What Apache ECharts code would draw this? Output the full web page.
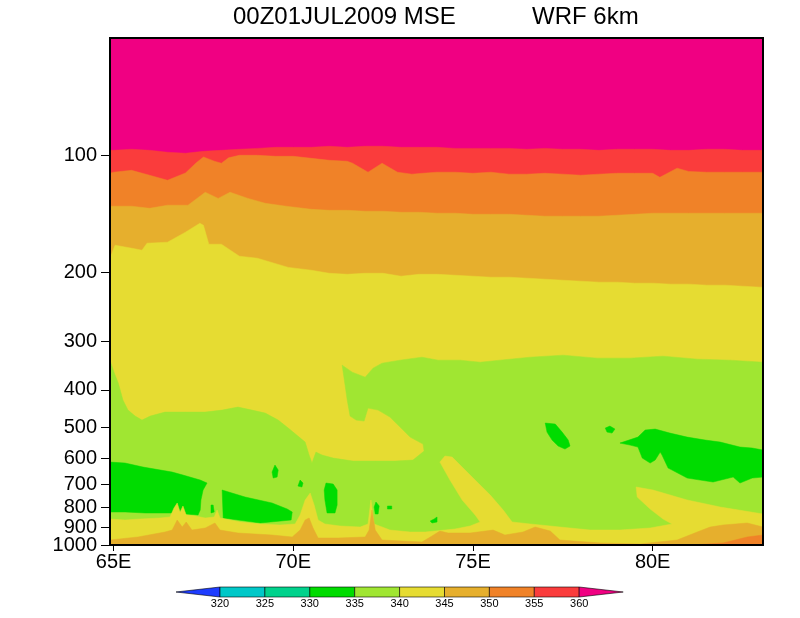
<!DOCTYPE html>
<html>
<head>
<meta charset="utf-8">
<title>00Z01JUL2009 MSE WRF 6km</title>
<script src="https://cdn.jsdelivr.net/npm/echarts@6/dist/echarts.min.js"></script>
<style>html,body{margin:0;background:#fff}</style>
</head>
<body>
<div id="main" style="width:800px;height:618px"></div>
<script>
// shading levels (K) and the GrADS rainbow used for them
var levels = [320, 325, 330, 335, 340, 345, 350, 355, 360];
var shadeColors = ['#1e3cff', '#00c8c8', '#00d28c', '#00dc00', '#a0e632', '#e6dc32', '#e6af2d', '#f08228', '#fa3c3c', '#f00082'];
var xTicks = [65, 70, 75, 80];
var pTicks = [100, 200, 300, 400, 500, 600, 700, 800, 900, 1000];
var lonRange = [64.9, 83.07];
var pRange = [50, 1000];

// contour lines, [lon, hPa]
var c360 = [[64.9,97.1],[65,97.1],[65.5,96.5],[66,97.1],[66.5,98.2],[67,98.8],[67.5,97.7],[68,97.1],[68.5,96.5],[69,96.0],[69.5,95.4],[70,95.4],[70.5,95.4],[71,94.8],[71.5,95.4],[72,94.8],[72.5,94.8],[73,95.4],[73.5,95.4],[74,95.4],[74.5,96.0],[75,96.0],[75.5,96.0],[76,96.0],[76.5,96.5],[77,96.0],[77.5,96.5],[78,96.5],[78.5,97.1],[79,96.5],[79.5,96.5],[80,96.5],[80.5,97.1],[81,97.1],[81.5,96.5],[82,96.5],[82.5,97.1],[83,97.1],[83.07,97.1]];
var c355 = [[64.9,111.2],[65,110.5],[65.5,109.3],[66,112.5],[66.5,115.9],[67,111.0],[67.3,104.5],[67.5,101.0],[67.8,103.5],[68,104.8],[68.2,101.5],[68.5,100.0],[69,100.0],[69.5,100.6],[70,100.6],[70.5,101.8],[71,103.0],[71.5,103.6],[71.65,104.8],[72.08,110.5],[72.47,104.8],[72.9,110.5],[73.3,111.8],[73.6,111.2],[74,110.5],[74.5,110.5],[75,111.2],[75.5,110.5],[76,111.8],[76.5,111.8],[77,111.2],[77.5,111.8],[78,112.5],[78.5,111.8],[79,111.2],[79.5,111.2],[80,111.2],[80.2,113.9],[80.68,107.9],[81,110.0],[81.5,110.5],[82,110.5],[82.5,110.5],[83,110.5],[83.07,110.5]];
var c350 = [[64.9,135.1],[65.5,135.1],[66,136.8],[66.5,134.3],[67.07,134.3],[67.55,124.4],[67.91,129.0],[68.24,124.4],[68.74,129.0],[69.22,132.8],[69.8,135.1],[70.5,137.6],[71,138.4],[71.5,138.4],[72,139.2],[72.5,139.2],[73,140.0],[73.5,140.0],[74,140.8],[74.5,140.8],[75,141.7],[75.5,141.7],[76,141.7],[76.5,142.5],[77,143.3],[77.5,143.3],[78,143.3],[78.5,143.3],[79,142.5],[79.5,141.7],[80,140.8],[81,140.8],[82,140.8],[83.07,140.8]];
var c345 = [[64.9,183.7],[65.04,170.1],[65.51,173.2],[65.79,175.2],[65.93,168.1],[66.5,167.1],[67,157.5],[67.4,149.4],[67.5,151.2],[67.65,169.1],[68,169.1],[68.5,181.5],[69,183.7],[69.86,193.9],[70.5,197.2],[71,200.8],[71.5,202.0],[72,200.8],[72.5,200.8],[73,204.3],[73.5,202.0],[74,202.0],[74.5,203.1],[75,204.3],[75.5,205.5],[76,205.5],[76.5,206.7],[77,207.9],[77.5,209.2],[78,210.4],[78.5,211.6],[79,211.6],[79.5,212.9],[80,212.9],[80.5,214.1],[81,214.1],[81.5,215.4],[82,215.4],[82.5,216.7],[83,218.0],[83.07,218.0]];
// upper 340 line, folds back round the yellow tongue near 72-74E
var c340top = [[64.9,335.5],[65.01,360.1],[65.13,384.2],[65.26,424.8],[65.4,450.7],[65.6,466.9],[65.79,478.1],[66.02,466.9],[66.43,456.0],[66.99,456.0],[67.55,456.0],[68.02,450.7],[68.46,442.7],[68.85,450.7],[69.22,458.7],[69.58,478.1],[69.86,501.2],[70.13,525.5],[70.33,544.4],[70.44,587.8],[70.52,616.2],[70.63,577.5],[70.8,587.8],[71.11,598.3],[71.66,609.0],[72.28,609.0],[72.83,609.0],[73.33,605.4],[73.64,574.1],[73.61,550.9],[73.25,528.6],[72.97,498.2],[72.69,469.7],[72.36,450.7],[72.08,445.4],[71.97,480.9],[71.75,478.1],[71.58,466.9],[71.5,424.8],[71.44,388.8],[71.36,345.5],[71.64,360.1],[72.0,370.9],[72.22,351.7],[72.47,341.5],[72.97,335.5],[73.58,329.6],[74.03,335.5],[74.64,335.5],[75.2,339.5],[75.75,335.5],[76.59,329.6],[77.51,325.7],[78.45,331.5],[79.37,331.5],[80.29,327.6],[81.24,333.5],[82.15,335.5],[83.07,339.5]];
// near-surface lines
var c340low = [[64.9,857.7],[65.32,862.7],[65.74,857.7],[66.29,852.5],[66.57,847.5],[66.68,803.7],[66.77,780.3],[66.85,822.8],[66.93,794.3],[67.02,837.5],[67.27,842.5],[67.55,852.5],[67.8,847.5],[67.88,813.2],[67.96,852.5],[68.52,873.0],[69.08,883.3],[69.63,888.6],[70.05,883.3],[70.19,837.5],[70.33,766.7],[70.47,735.6],[70.58,789.6],[70.69,862.7],[70.88,883.3],[71.3,893.8],[71.86,899.2],[72.08,883.3],[72.16,766.7],[72.25,883.3],[72.69,915.3],[73.25,926.1],[73.67,926.1],[74.5,909.9],[74.92,893.8],[75.2,873.0],[75.06,837.5],[74.7,766.7],[74.36,681.3],[74.08,612.6],[74.22,591.3],[74.42,594.8],[74.92,661.5],[75.48,744.4],[75.84,813.2],[76.09,873.0],[76.59,883.3],[77.42,899.2],[78.26,915.3],[79.09,915.3],[79.93,904.5],[80.54,883.3],[80.29,857.7],[79.93,808.4],[79.57,753.2],[79.54,710.0],[80.01,722.7],[80.96,766.7],[81.88,798.9],[83.07,832.6]];
var c345low = [[64.9,970.9],[65.68,953.8],[66.43,926.1],[66.63,915.3],[66.77,862.7],[66.91,899.2],[67.02,873.0],[67.18,915.3],[67.55,904.5],[67.82,878.1],[67.96,915.3],[68.46,931.6],[69.41,942.7],[69.97,953.8],[70.19,915.3],[70.33,862.7],[70.44,852.5],[70.55,904.5],[70.69,959.5],[71.25,959.5],[72.0,953.8],[72.11,915.3],[72.19,813.2],[72.28,915.3],[72.47,970.9],[73.58,982.4],[73.86,948.2],[74.08,920.7],[74.31,931.6],[74.92,931.6],[75.56,915.3],[75.89,942.7],[76.39,926.1],[76.73,899.2],[77.15,920.7],[77.42,970.9],[78.54,988.3],[79.65,994.1],[80.68,970.9],[81.24,926.1],[81.6,899.2],[81.96,888.6],[82.63,878.1],[83.07,899.2]];
var c350low = [[81.04,1000],[81.96,988.3],[82.63,953.8],[83.07,942.7]];
// 330-335 K cells
var g335a = [[64.9,612.6],[65.32,616.2],[65.82,631.0],[66.63,649.9],[66.93,661.5],[67.41,681.3],[67.6,693.4],[67.49,722.7],[67.43,766.7],[67.41,813.2],[67.35,837.5],[66.63,827.7],[65.88,827.7],[65.32,822.8],[64.9,822.8]];
var g335b = [[68.02,722.7],[68.66,753.2],[69.41,780.3],[69.83,808.4],[69.97,822.8],[69.94,862.7],[69.08,878.1],[68.05,852.5]];
var g335c = [[69.49,623.5],[69.58,642.2],[69.55,669.3],[69.44,673.3],[69.41,649.9]];
var g335d = [[70.19,681.3],[70.27,693.4],[70.24,710.0],[70.13,705.9]];
var g335e = [[70.91,693.4],[71.11,697.5],[71.22,722.7],[71.22,789.6],[71.16,827.7],[70.94,827.7],[70.88,766.7],[70.86,722.7]];
var g335f = [[67.71,789.6],[67.77,789.6],[67.8,822.8],[67.71,827.7]];
var g335g = [[72.3,775.7],[72.39,794.3],[72.36,832.6],[72.28,832.6],[72.25,798.9]];
var g335h = [[72.62,794.3],[72.74,794.3],[72.74,808.4],[72.62,808.4]];
var g335i = [[73.81,867.8],[73.92,857.7],[74.0,847.5],[74.0,873.0],[73.86,878.1]];
var g335j = [[77.01,486.5],[77.29,489.4],[77.48,513.2],[77.65,537.9],[77.7,557.3],[77.56,567.3],[77.37,557.3],[77.2,537.9],[77.06,513.2]];
var g335k = [[78.68,501.2],[78.81,495.2],[78.95,504.1],[78.87,516.2],[78.73,513.2]];
var g335l = [[79.09,547.6],[79.59,528.6],[79.79,507.1],[80.07,504.1],[80.48,516.2],[80.96,528.6],[81.46,537.9],[81.88,544.4],[82.43,560.6],[82.77,563.9],[83.07,570.6],[83.07,669.3],[82.77,673.3],[82.43,693.4],[82.24,669.3],[81.68,689.3],[81.32,681.3],[80.96,673.3],[80.54,642.2],[80.43,634.7],[80.26,587.8],[80.21,577.5],[80.07,605.4],[79.93,616.2],[79.71,598.3],[79.59,560.6],[79.37,554.1]];

function below(line) {
  return line.concat([[lonRange[1], pRange[1]], [lonRange[0], pRange[1]]]);
}
// painter's order: each shape is filled over the previous ones
var shapes = [
  {band: 9, pts: [[lonRange[0], pRange[0]], [lonRange[1], pRange[0]], [lonRange[1], pRange[1]], [lonRange[0], pRange[1]]]},
  {band: 8, pts: below(c360)},
  {band: 7, pts: below(c355)},
  {band: 6, pts: below(c350)},
  {band: 5, pts: below(c345)},
  {band: 4, pts: below(c340top)},
  {band: 3, pts: g335a}, {band: 3, pts: g335b}, {band: 3, pts: g335c},
  {band: 3, pts: g335d}, {band: 3, pts: g335e}, {band: 3, pts: g335f},
  {band: 3, pts: g335g}, {band: 3, pts: g335h}, {band: 3, pts: g335i},
  {band: 3, pts: g335j}, {band: 3, pts: g335k}, {band: 3, pts: g335l},
  {band: 5, pts: below(c340low)},
  {band: 6, pts: below(c345low)},
  {band: 7, pts: c350low.concat([[lonRange[1], pRange[1]]])}
];

var font = '"Liberation Sans", Arial, sans-serif';

// colour bar (GrADS style, triangles at both ends)
var cb = {left: 220, step: 44.9, top: 587, h: 10, tip: 44};
var cbGraphics = [];
cbGraphics.push({type: 'polygon', shape: {points: [[cb.left - cb.tip, cb.top + cb.h / 2], [cb.left, cb.top], [cb.left, cb.top + cb.h]]},
  style: {fill: shadeColors[0], stroke: '#000', lineWidth: 0.6}});
for (var i = 0; i < levels.length - 1; i++) {
  cbGraphics.push({type: 'rect', shape: {x: cb.left + i * cb.step, y: cb.top, width: cb.step, height: cb.h},
    style: {fill: shadeColors[i + 1], stroke: '#000', lineWidth: 0.6}});
}
var cbRight = cb.left + (levels.length - 1) * cb.step;
cbGraphics.push({type: 'polygon', shape: {points: [[cbRight, cb.top], [cbRight + cb.tip, cb.top + cb.h / 2], [cbRight, cb.top + cb.h]]},
  style: {fill: shadeColors[9], stroke: '#000', lineWidth: 0.6}});
levels.forEach(function (lv, i) {
  cbGraphics.push({type: 'text', x: cb.left + i * cb.step, y: cb.top + cb.h + 7,
    style: {text: String(lv), fill: '#000', font: '11px ' + font, align: 'center', verticalAlign: 'middle'}});
});
cbGraphics.push({type: 'text', x: 233, y: 17,
  style: {text: '00Z01JUL2009 MSE', fill: '#000', font: '24px ' + font, align: 'left', verticalAlign: 'middle'}});
cbGraphics.push({type: 'text', x: 532, y: 17,
  style: {text: 'WRF 6km', fill: '#000', font: '24px ' + font, align: 'left', verticalAlign: 'middle'}});

var logTicks = pTicks.map(function (p) { return Math.log10(p); });
var pFormat = function (v) { return String(Math.round(Math.pow(10, v))); };
// two overlaid pressure axes so that the touching 900 and 1000 labels are both kept
function pAxis(labelValues, tickValues, showLine) {
  return {
    type: 'value', position: 'left', inverse: true,
    min: Math.log10(pRange[0]), max: Math.log10(pRange[1]),
    splitLine: {show: false},
    axisLine: {show: showLine, lineStyle: {color: '#000', width: 2}},
    axisTick: {show: true, length: 9, lineStyle: {color: '#000', width: 1}, customValues: tickValues},
    axisLabel: {color: '#000', fontSize: 20, fontFamily: font, margin: 13, customValues: labelValues,
      hideOverlap: false, showMinLabel: true, showMaxLabel: true, formatter: pFormat}
  };
}

var option = {
  backgroundColor: '#fff',
  animation: false,
  grid: {left: 110, right: 37, top: 38, bottom: 73, containLabel: false, outerBoundsMode: 'none',
    show: true, borderColor: '#000', borderWidth: 2, backgroundColor: 'transparent', z: 10},
  xAxis: {
    type: 'value', min: lonRange[0], max: lonRange[1],
    splitLine: {show: false},
    axisLine: {show: true, lineStyle: {color: '#000', width: 2}},
    axisTick: {show: true, length: 6, lineStyle: {color: '#000', width: 1}, customValues: xTicks},
    axisLabel: {color: '#000', fontSize: 20, fontFamily: font, margin: 7, customValues: xTicks,
      hideOverlap: false, showMinLabel: true, showMaxLabel: true,
      formatter: function (v) { return Math.round(v) + 'E'; }}
  },
  yAxis: [
    pAxis(logTicks.slice(0, -1), logTicks, true),
    pAxis(logTicks.slice(-1), logTicks.slice(-1), false)
  ],
  graphic: cbGraphics,
  series: [{
    type: 'custom',
    silent: true,
    clip: true,
    encode: {x: 0, y: 1},
    data: shapes.map(function (s, i) { return [s.pts[0][0], Math.log10(s.pts[0][1]), i]; }),
    renderItem: function (params, api) {
      var s = shapes[params.dataIndex];
      var pts = s.pts.map(function (d) { return api.coord([d[0], Math.log10(d[1])]); });
      return {type: 'polygon', shape: {points: pts},
        style: {fill: shadeColors[s.band], stroke: shadeColors[s.band], lineWidth: 0.5}};
    }
  }]
};

var myChart = echarts.init(document.getElementById('main'));
myChart.setOption(option);
</script>
</body>
</html>
